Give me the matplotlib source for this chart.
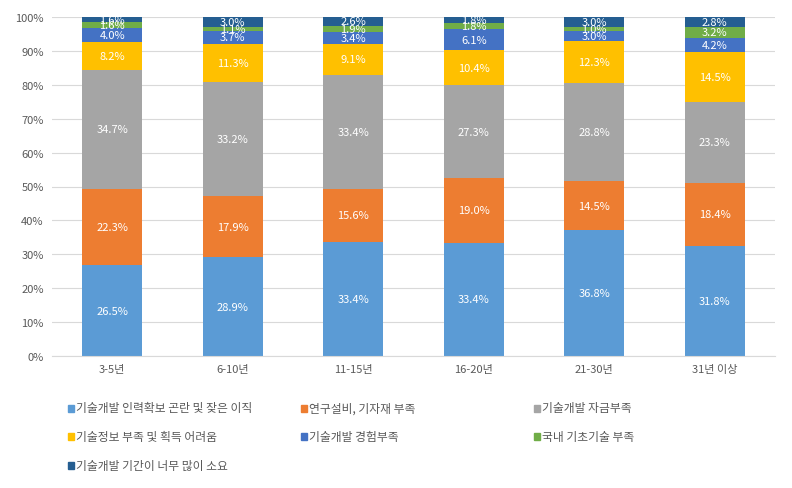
import numpy as np
import matplotlib.pyplot as plt
from matplotlib.patches import Rectangle

plt.rcParams['font.family'] = ['Noto Sans CJK KR', 'DejaVu Sans']

categories = ['3-5년', '6-10년', '11-15년', '16-20년', '21-30년', '31년 이상']
series_names = ['기술개발 인력확보 곤란 및 잦은 이직', '연구설비, 기자재 부족', '기술개발 자금부족',
                '기술정보 부족 및 획득 어려움', '기술개발 경험부족', '국내 기초기술 부족',
                '기술개발 기간이 너무 많이 소요']
manpower = [26.5, 28.9, 33.4, 33.4, 36.8, 31.8]
equipment = [22.3, 17.9, 15.6, 19.0, 14.5, 18.4]
funding = [34.7, 33.2, 33.4, 27.3, 28.8, 23.3]
information = [8.2, 11.3, 9.1, 10.4, 12.3, 14.5]
experience = [4.0, 3.7, 3.4, 6.1, 3.0, 4.2]
basic_tech = [1.6, 1.1, 1.9, 1.8, 1.0, 3.2]
too_long = [1.6, 3.0, 2.6, 1.8, 3.0, 2.8]
colors = ['#5B9BD5', '#ED7D31', '#A5A5A5', '#FFC000', '#4472C4', '#70AD47', '#255E91']

data = np.array([manpower, equipment, funding, information, experience, basic_tech, too_long])
# 100% stacked: normalise each column
share = data / data.sum(axis=0) * 100

fig = plt.figure(figsize=(7.92, 4.89), dpi=100)
ax = fig.add_axes([52 / 792, 1 - 357 / 489, 723 / 792, 339 / 489])

x = np.arange(len(categories))
bottom = np.zeros(len(categories))
for i in range(len(series_names)):
    ax.bar(x, share[i], 0.5, bottom=bottom, color=colors[i], zorder=2)
    for j in range(len(categories)):
        ax.text(x[j], bottom[j] + share[i][j] / 2, f'{data[i][j]:.1f}%', ha='center', va='center',
                color='white', fontsize=8, zorder=3)
    bottom += share[i]

ax.set_xlim(-0.5, len(categories) - 0.5)
ax.set_ylim(0, 100)
ax.set_yticks(np.arange(0, 101, 10))
ax.set_yticklabels([f'{v}%' for v in range(0, 101, 10)])
ax.set_xticks(x)
ax.set_xticklabels(categories)
ax.tick_params(length=0, labelsize=8, colors='#595959', pad=6)
ax.yaxis.grid(True, color='#D9D9D9', linewidth=0.8, zorder=0)
for s in ['top', 'right', 'left']:
    ax.spines[s].set_visible(False)
ax.spines['bottom'].set_color('#D9D9D9')

# legend laid out in rows of three
for i, name in enumerate(series_names):
    row, col = divmod(i, 3)
    lx = (71 + col * 233) / 792
    ly = 1 - (409 + row * 28.5) / 489
    fig.patches.append(Rectangle((lx - 3 / 792, ly - 3.5 / 489), 6 / 792, 7 / 489,
                                 transform=fig.transFigure, color=colors[i]))
    fig.text(lx + 5 / 792, ly, name, va='center', ha='left', fontsize=8.5, color='#595959')

fig.savefig('out.png', dpi=100)
